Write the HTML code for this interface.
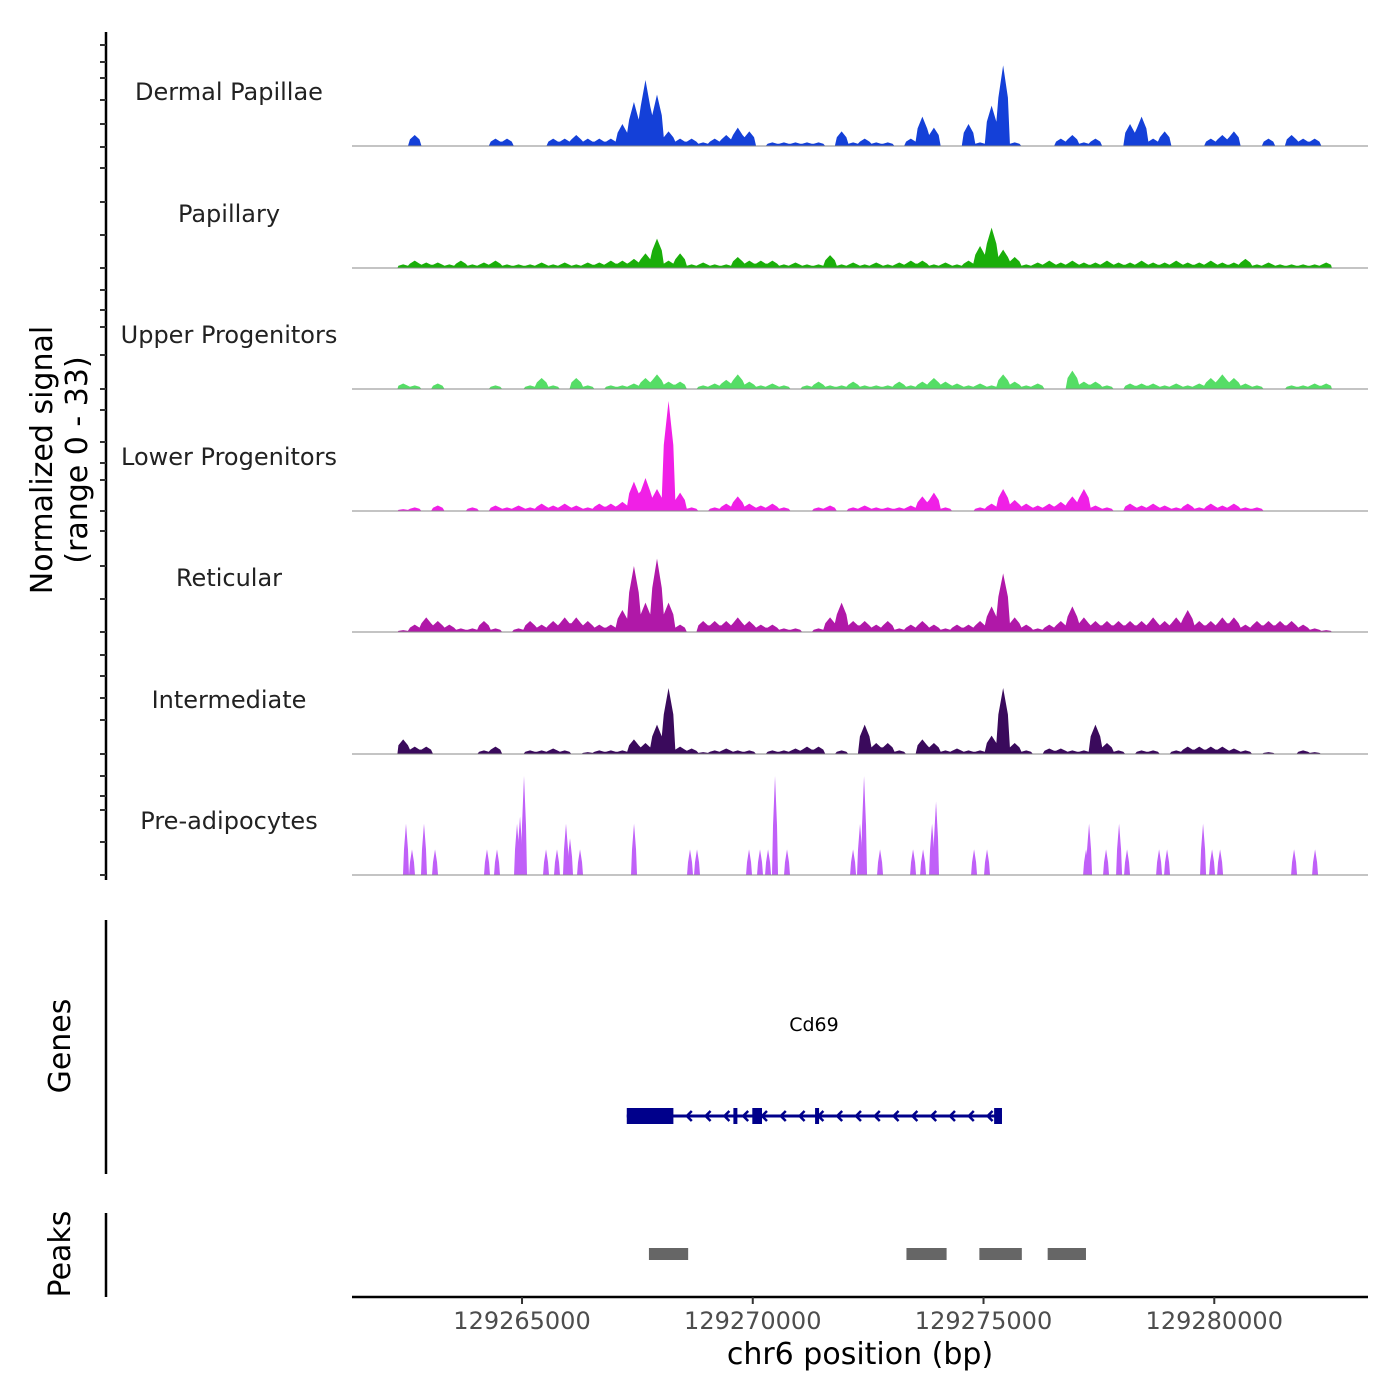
<!DOCTYPE html>
<html><head><meta charset="utf-8"><style>
body{margin:0;background:#fff;}
svg{display:block;font-family:"DejaVu Sans","Liberation Sans",sans-serif;}
</style></head><body>
<svg id="chart" width="1400" height="1400" xmlns="http://www.w3.org/2000/svg">
<g id="axes"></g>
<g id="tracks"></g>
<g id="genes"></g>
<g id="peaks"></g>
</svg>
<script>
const trackNames = ["Dermal Papillae","Papillary","Upper Progenitors","Lower Progenitors","Reticular","Intermediate","Pre-adipocytes"];
const trackColors = ["#1440d8","#1aae0a","#55dd66","#f020e6","#b018a8","#3a0a5c","#c060f8"];
const binStart = 129262300, binSize = 250;
const dermalPapillae = [0,3,0,0,0,0,0,0,2,2,0,0,0,2,2,3,2,2,2,6,12,18,14,4,2,2,1,2,3,5,4,0,1,1,1,1,1,0,4,1,2,1,1,0,2,8,5,0,0,6,1,11,22,1,0,0,0,2,3,1,2,0,0,6,8,2,4,0,0,0,2,3,4,0,0,2,0,3,2,2,0];
const papillary = [1,2,1.5,1.5,1,2,1,1.5,2,1,1,1,1.5,1,1.5,1,1.5,1.5,2,2,2.5,4,8,2,4,1,1.5,1,1,3,2,2,2,1,1.5,1,1,3.5,1,1.5,1,1.5,1,1.5,2,2,1,1.5,1,2,6,11,5,3,1,1.5,2,1.5,2,1.5,1.5,2,1.5,1.5,2,1.5,1.5,2,1.5,1.5,2,1.5,1.5,2.5,1,1.5,1,1,1,1,1.5];
const upperProgenitors = [1.5,1,0,1.5,0,0,0,0,1,0,0,1,3,1,0,3,1,0,1,1,1.5,3,4,2,2,0,1,1.5,2.5,4,2,1,1.5,1,0,1,2,1,1,2,1,1,1,2,1,2,3,2,1.5,1,1.5,1,4,2,1,1.5,0,0,5,2,2,1,0,1.5,1.5,1.5,1,1.5,1,1.5,3,4,3,1.5,1,0,0,1,1,1.5,1.5];
const lowerProgenitors = [0.5,1,0,1.5,0,0,1,0,1.5,1,1.5,1,2,1.5,2,1.5,1,2,2,2.5,8,9,6,30,5,1,0,1,2,4,2,1.5,2,1,0,0,1,1.5,0,1,1.5,1,1,1,1.5,4,5,1,0,0,1,2,6,3,2,1.5,2,2.5,4,6,1.5,1,0,2,1.5,2,1.5,1,2,1,2,1.5,2,1,1,0,0,0,0,0,0];
const reticular = [0.5,2,4,3,2,1,1,3,1,0,1,3,2,3,4,4,3,2,2,6,18,8,20,8,2,0,3,3,3,4,3,2,2,1,1,0,1,4,8,3,3,2,3,1,2,3,2,1,2,2,3,7,16,4,2,1,2,3,7,4,3,3,3,3,3,4,3,4,6,3,3,4,4,2,3,3,3,3,2,1,0.5];
const intermediate = [4,2,2,0,0,0,0,1,2,0,0,1,1,1.5,1,0,0.5,1,1,1,4,3,8,18,2,1.5,0.5,1,1.5,1,1,0,1,1,1.5,2,2,0,1,0,8,3,3,1,0,4,3,1,1.5,1,1,5,18,3,1,0,1.5,1.5,1,1,8,3,1,0,1,1,0,1,2,2,2,2,1.5,1,0,0.5,0,0,1,0.5,0];
const preadipPos = [129262486,129262616,129262876,129263115,129264241,129264458,129264892,129264957,129265043,129265520,129265758,129265953,129266040,129266257,129267427,129268640,129268792,129269919,129270157,129270331,129270482,129270742,129272173,129272324,129272411,129272758,129273473,129273690,129273885,129273971,129274795,129275076,129277222,129277287,129277655,129277937,129278110,129278804,129278977,129279757,129279952,129280126,129281729,129282184];
const preadipVal = [14,7,14,7,7,7,14,16,27,7,7,14,10,7,14,7,7,7,7,7,27,7,7,14,27,7,7,7,14,20,7,7,7,14,7,14,7,7,7,14,7,7,7,7];
const geneStart = 129267270, geneEnd = 129275400;
const exonStarts = [129267270,129269580,129269990,129271350,129275230];
const exonEnds = [129268280,129269650,129270200,129271430,129275400];
const peakStarts = [129267750,129273330,129274910,129276390];
const peakEnds = [129268600,129274200,129275830,129277220];
const xTicks = [129265000,129270000,129275000,129280000];

const X0 = 352, X1 = 1368, BP0 = 129261316, BP1 = 129283331;
const x = bp => X0 + (bp - BP0) / (BP1 - BP0) * (X1 - X0);
const baselines = [146,268,389,511,632,754,875];
const yScale = v => v / 33 * 121;
const NS = "http://www.w3.org/2000/svg";
function mk(tag, attrs, parent){const e=document.createElementNS(NS,tag);for(const k in attrs)e.setAttribute(k,attrs[k]);parent.appendChild(e);return e;}
const axes = document.getElementById('axes'), tracks = document.getElementById('tracks');

let ax = mk('line',{x1:106,y1:32,x2:106,y2:880,stroke:'#000','stroke-width':2.5},axes);


const yTicks=[45,62,78,100,124,147,168,202,235,268,290,310,327,355,389,410,442,463,480,511,531,566,599,632,655,676,698,720,754,776,796,810,842,875];
yTicks.forEach(t=>{const l=mk('line',{x1:100,y1:t,x2:106,y2:t,stroke:'#333','stroke-width':2},axes);

});
let yt = mk('text',{x:0,y:0,'font-size':30,'text-anchor':'middle',transform:'translate(52,460) rotate(-90)'},axes);


yt.innerHTML='<tspan x="0" dy="0">Normalized signal</tspan><tspan x="0" dy="35">(range 0 - 33)</tspan>';

const binData=[dermalPapillae,papillary,upperProgenitors,lowerProgenitors,reticular,intermediate];
binData.forEach((arr,k)=>{
  const b=baselines[k];
  let d=`M${x(binStart)},${b}`;
  arr.forEach((v,i)=>{const xa=x(binStart+i*binSize), xb=x(binStart+(i+1)*binSize), xm=(xa+xb)/2;
    d+=` L${xa+1},${b-yScale(v)*0.6} L${xm},${b-yScale(v)} L${xb-1},${b-yScale(v)*0.6}`;});
  d+=` L${x(binStart+arr.length*binSize)},${b} Z`;
  const p=mk('path',{d,fill:trackColors[k]},tracks);
  
  
});
{
  const b=baselines[6];
  preadipPos.forEach((pos,i)=>{
    const xc=x(pos), h=yScale(preadipVal[i]);
    const p=mk('path',{d:`M${xc-3},${b} L${xc-2},${b-h*0.5} L${xc},${b-h} L${xc+2},${b-h*0.5} L${xc+3},${b} Z`,fill:trackColors[6]},tracks);
    
    
  });
}
baselines.forEach((b,k)=>{
  const l=mk('line',{x1:X0,y1:b,x2:X1,y2:b,stroke:'#888','stroke-width':1},tracks);
  
  
  const t=mk('text',{x:229,y:b-46,'font-size':24,'text-anchor':'middle',fill:'#222'},tracks);
  
  
  t.textContent=trackNames[k];
});

const genes=document.getElementById('genes');
let ga=mk('line',{x1:106,y1:920,x2:106,y2:1174,stroke:'#000','stroke-width':2.5},genes);


let gt=mk('text',{x:0,y:0,'font-size':30,'text-anchor':'middle',transform:'translate(70,1046) rotate(-90)'},genes);


gt.textContent='Genes';
let gl=mk('text',{x:814,y:1031,'font-size':19,'text-anchor':'middle'},genes);


gl.textContent='Cd69';
let gline=mk('line',{x1:x(geneStart),y1:1116,x2:x(geneEnd),y2:1116,stroke:'#00008b','stroke-width':3},genes);


for(let xx=x(geneStart)+60;xx<x(geneEnd)-8;xx+=18.8){
  const a=mk('path',{d:`M${xx+5},${1111} L${xx},${1116} L${xx+5},${1121}`,stroke:'#00008b','stroke-width':2.5,fill:'none'},genes);
  
  
}
exonStarts.forEach((s,i)=>{
  const r=mk('rect',{x:x(s),y:1108,width:Math.max(4,x(exonEnds[i])-x(s)),height:16,fill:'#00008b'},genes);
  
  
});

const peaks=document.getElementById('peaks');
let pa=mk('line',{x1:106,y1:1213,x2:106,y2:1297,stroke:'#000','stroke-width':2.5},peaks);


let pt=mk('text',{x:0,y:0,'font-size':30,'text-anchor':'middle',transform:'translate(70,1254) rotate(-90)'},peaks);


pt.textContent='Peaks';
peakStarts.forEach((s,i)=>{
  const r=mk('rect',{x:x(s),y:1248,width:x(peakEnds[i])-x(s),height:12,fill:'#666'},peaks);
  
  
});

let xa=mk('line',{x1:X0,y1:1297,x2:X1,y2:1297,stroke:'#000','stroke-width':2.5},axes);


xTicks.forEach(t=>{
  const l=mk('line',{x1:x(t),y1:1297,x2:x(t),y2:1304,stroke:'#333','stroke-width':2},axes);
  
  
  const tx=mk('text',{x:x(t),y:1329,'font-size':24,'text-anchor':'middle',fill:'#4d4d4d'},axes);
  
  
  tx.textContent=t;
});
let xt=mk('text',{x:860,y:1364,'font-size':30,'text-anchor':'middle'},axes);


xt.textContent='chr6 position (bp)';
</script>
</body></html>
